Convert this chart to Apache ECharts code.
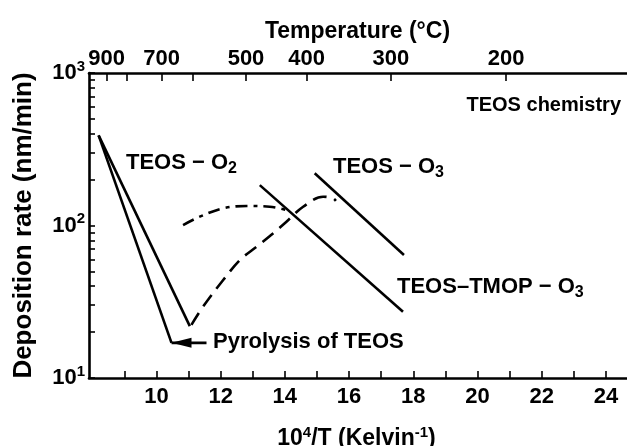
<!DOCTYPE html>
<html>
<head>
<meta charset="utf-8">
<script src="https://cdn.jsdelivr.net/npm/echarts@6/dist/echarts.min.js"></script>
<style>
  html, body { margin: 0; padding: 0; background: #fff; }
  #chart { width: 627px; height: 446px; }
</style>
</head>
<body>
<div id="chart"></div>
<script>
// ---- Axes ----
// Bottom axis: reciprocal temperature, 10^4/T
const xTicks = [9, 10, 11, 12, 13, 14, 15, 16, 17, 18, 19, 20, 21, 22, 23, 24];
const xLabels = [10, 12, 14, 16, 18, 20, 22, 24];
// Top axis: temperature in °C and where each tick sits on the 10^4/T scale
const tempValues = [900, 800, 700, 600, 500, 400, 300, 200];
const tempTickPos = [8.45, 9.07, 10.16, 11.13, 12.79, 14.68, 17.30, 20.89];
const tempShown = [900, 700, 500, 400, 300, 200];
// Left axis: deposition rate (log)
const yTicks = [10, 20, 30, 40, 50, 60, 70, 80, 90, 100, 200, 300, 400, 500, 600, 700, 800, 900, 1000];
const yLabels = [10, 100, 1000];

// ---- Curves: [10^4/T, rate in nm/min] ----
const teosO2 = [[8.2, 390], [11.04, 21.9]];
const teosO2Pyrolysis = [[8.2, 390], [10.47, 17]];
const pyrolysisArrow = [[11.56, 17], [10.47, 17]];
const teosO3 = [[14.93, 220], [17.71, 64]];
const teosTmopO3 = [[13.22, 184], [17.68, 27.2]];
const teosO3LowT = [[11.09, 22.3], [11.45, 29.3], [12.08, 43.9], [12.60, 59.4], [13.12, 72.6],
                    [13.64, 88.9], [14.05, 105.9], [14.57, 132.8], [15.19, 154.5], [15.50, 150.8], [15.59, 145]];
const teosTmopLowT = [[10.83, 100.7], [11.35, 114.3], [12.08, 129.7], [12.81, 134.3], [13.53, 132.8], [14.05, 126.4]];

const FONT = 'Liberation Sans, Arial, Helvetica, sans-serif';
const INK = '#000';
const LW = 2.6;

const tempPosToLabel = (v) => {
  let best = 0;
  for (let i = 1; i < tempTickPos.length; i++) {
    if (Math.abs(tempTickPos[i] - v) < Math.abs(tempTickPos[best] - v)) best = i;
  }
  return String(tempValues[best]);
};

const supRich = { sup: { fontSize: 15, fontWeight: 'bold', fontFamily: FONT, color: INK, lineHeight: 14, verticalAlign: 'top' } };
const subRich = { sub: { fontSize: 16, fontWeight: 'bold', fontFamily: FONT, fill: INK, lineHeight: 16, verticalAlign: 'bottom' } };

function solid(data) {
  return {
    type: 'line', data: data, symbol: 'none', silent: true,
    lineStyle: { color: INK, width: LW, type: 'solid', cap: 'butt' }
  };
}

function label(text, x, y, align, size) {
  return {
    type: 'text', silent: true,
    style: {
      text: text, x: x, y: y, align: align || 'left', verticalAlign: 'middle',
      fontSize: size || 22, fontWeight: 'bold', fontFamily: FONT, fill: INK, lineHeight: 28,
      rich: subRich
    }
  };
}

const chart = echarts.init(document.getElementById('chart'), null, { renderer: 'canvas' });

chart.setOption({
  animation: false,
  backgroundColor: '#fff',
  grid: { left: 89, top: 73, bottom: 68, width: 549, outerBoundsMode: 'none', containLabel: false },
  xAxis: [
    {
      type: 'value', position: 'bottom', min: 7.9, max: 25,
      axisLine: { show: true, onZero: false, lineStyle: { color: INK, width: 2.6 } },
      axisTick: { show: true, inside: true, length: 7, customValues: xTicks, lineStyle: { color: INK, width: 1.6 } },
      axisLabel: { customValues: xLabels, margin: 8, fontSize: 22, fontWeight: 'bold', fontFamily: FONT, color: INK },
      splitLine: { show: false },
      name: '10{sup|4}/T (Kelvin{sup|-1})', nameLocation: 'middle', nameGap: 47,
      nameTextStyle: { fontSize: 23, fontWeight: 'bold', fontFamily: FONT, color: INK, lineHeight: 28, padding: [0, 14, 0, 0], rich: supRich }
    },
    {
      type: 'value', position: 'top', min: 7.9, max: 25,
      axisLine: { show: true, onZero: false, lineStyle: { color: INK, width: 2.6 } },
      axisTick: { show: true, inside: true, length: 8, customValues: tempTickPos, lineStyle: { color: INK, width: 1.6 } },
      axisLabel: {
        customValues: tempTickPos.filter((p, i) => tempShown.includes(tempValues[i])),
        formatter: tempPosToLabel, margin: 3,
        fontSize: 22, fontWeight: 'bold', fontFamily: FONT, color: INK
      },
      splitLine: { show: false },
      name: 'Temperature (°C)', nameLocation: 'middle', nameGap: 30,
      nameTextStyle: { fontSize: 23, fontWeight: 'bold', fontFamily: FONT, color: INK, padding: [0, 12, 0, 0] }
    }
  ],
  yAxis: {
    type: 'log', logBase: 10, min: 10, max: 1000,
    axisLine: { show: true, onZero: false, lineStyle: { color: INK, width: 2.6 } },
    axisTick: { show: true, inside: true, length: 6, customValues: yTicks, lineStyle: { color: INK, width: 1.6 } },
    axisLabel: {
      customValues: yLabels, margin: 4, fontSize: 22, fontWeight: 'bold', fontFamily: FONT, color: INK, lineHeight: 28,
      formatter: (v) => '10{sup|' + Math.round(Math.log10(v)) + '}', rich: supRich
    },
    splitLine: { show: false },
    name: 'Deposition rate (nm/min)', nameLocation: 'middle', nameRotate: 90, nameGap: 52,
    nameTextStyle: { fontSize: 26, fontWeight: 'bold', fontFamily: FONT, color: INK }
  },
  series: [
    solid(teosO2),
    solid(teosO2Pyrolysis),
    solid(teosO3),
    solid(teosTmopO3),
    {
      type: 'line', data: teosO3LowT, symbol: 'none', smooth: 0.35, silent: true,
      lineStyle: { color: INK, width: LW, type: [14, 8] }
    },
    {
      type: 'line', data: teosTmopLowT, symbol: 'none', smooth: 0.35, silent: true,
      lineStyle: { color: INK, width: LW, type: [12, 6, 4, 6] }
    },
    {
      type: 'line', silent: true, showSymbol: true, symbol: 'none',
      itemStyle: { color: INK },
      lineStyle: { color: INK, width: LW },
      data: pyrolysisArrow.map((p, i) => i === pyrolysisArrow.length - 1
        ? { value: p, symbol: 'triangle', symbolSize: [10, 20], symbolRotate: 90, symbolOffset: [10, 0] }
        : { value: p, symbol: 'none' })
    }
  ],
  graphic: [
    label('TEOS chemistry', 621, 105, 'right', 20),
    label('TEOS − O{sub|2}', 126, 163),
    label('TEOS − O{sub|3}', 333, 167),
    label('TEOS–TMOP − O{sub|3}', 397, 287),
    label('Pyrolysis of TEOS', 213, 342)
  ]
});
</script>
</body>
</html>
